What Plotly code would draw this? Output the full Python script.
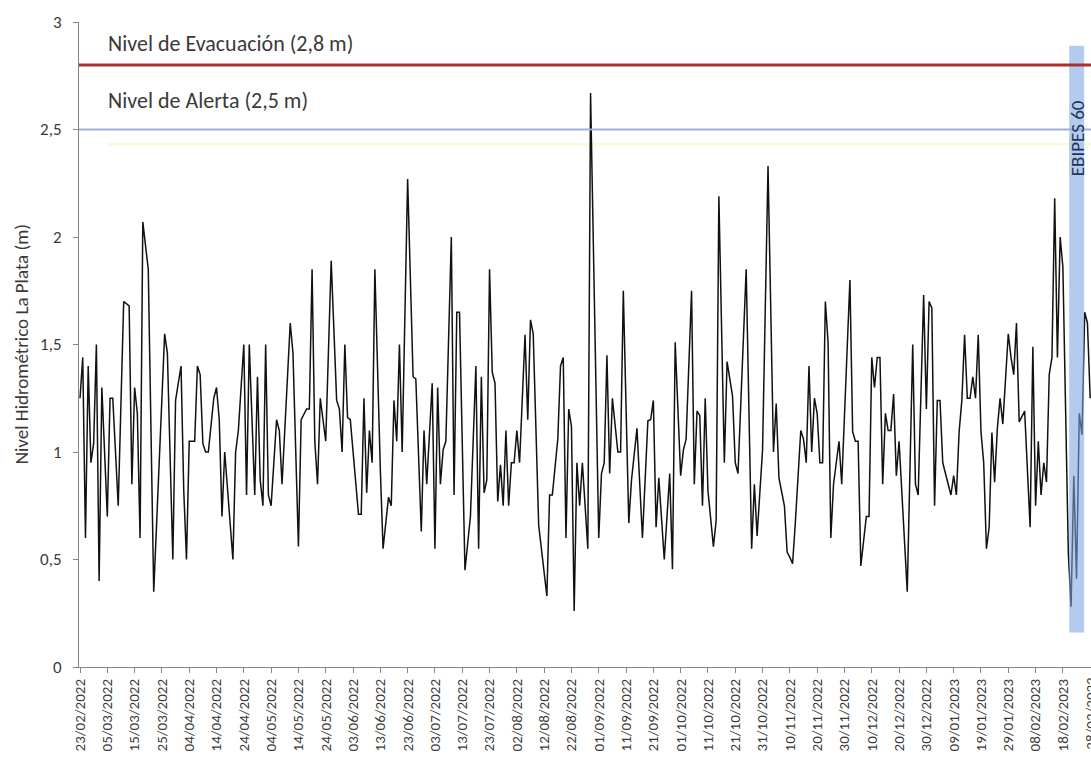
import pandas as pd
import plotly.graph_objects as go

# Daily water level at La Plata, day offsets from the first date
fecha_inicio = "2022-02-23"
dias = [
    0, 1, 2, 3, 4, 5, 6, 7, 8, 10, 11, 12, 14, 16, 18, 19, 20, 21, 22, 23, 25, 27,
    31, 32, 34, 35, 37, 38, 39, 40, 42, 43, 44, 45, 46, 47, 49, 50, 51, 52, 53, 56,
    57, 58, 60, 61, 62, 64, 65, 66, 67, 68, 69, 70, 72, 73, 74, 77, 78, 80, 81, 83,
    84, 85, 86, 87, 88, 90, 92, 94, 95, 96, 97, 98, 99, 102, 103, 104, 105, 106, 107,
    108, 110, 111, 113, 114, 115, 116, 117, 118, 120, 122, 123, 125, 126, 127, 129,
    130, 131, 132, 133, 134, 136, 137, 138, 139, 141, 143, 145, 146, 147, 148, 149,
    150, 151, 152, 153, 154, 155, 156, 157, 158, 159, 160, 161, 163, 164, 165, 166,
    168, 171, 172, 173, 175, 176, 177, 178, 179, 180, 181, 182, 183, 184, 186, 187,
    190, 191, 192, 193, 194, 195, 197, 198, 199, 201, 202, 204, 206, 208, 209, 210,
    211, 212, 214, 216, 217, 218, 220, 221, 222, 224, 225, 226, 227, 228, 229, 230,
    232, 233, 234, 236, 237, 239, 240, 241, 244, 246, 247, 248, 250, 252, 254, 255,
    256, 258, 259, 260, 261, 262, 264, 265, 266, 267, 268, 269, 270, 271, 272, 273,
    274, 275, 276, 278, 279, 282, 283, 284, 285, 286, 288, 289, 290, 291, 292, 293,
    294, 295, 296, 297, 298, 299, 300, 303, 305, 306, 307, 309, 310, 311, 312, 313,
    314, 315, 316, 317, 318, 319, 320, 321, 322, 323, 324, 325, 326, 327, 328, 329,
    330, 331, 332, 333, 334, 335, 336, 337, 338, 340, 341, 342, 343, 344, 346, 348,
    349, 350, 351, 352, 353, 354, 355, 356, 357, 358, 359, 360, 362, 363, 364, 365,
    366, 367, 368, 369, 370,
]
nivel = [
    1.25, 1.44, 0.60, 1.40, 0.95, 1.04, 1.50, 0.40, 1.30, 0.70, 1.25, 1.25, 0.75, 1.70, 1.68, 0.85, 1.30, 1.18, 0.60, 2.07, 1.85, 0.35,
    1.55, 1.46, 0.50, 1.24, 1.40, 0.82, 0.50, 1.05, 1.05, 1.40, 1.36, 1.04, 1.00, 1.00, 1.25, 1.30, 1.15, 0.70, 1.00, 0.50,
    1.00, 1.10, 1.50, 0.80, 1.50, 0.80, 1.35, 0.87, 0.75, 1.50, 0.80, 0.75, 1.15, 1.10, 0.85, 1.60, 1.46, 0.56, 1.15, 1.20,
    1.20, 1.85, 1.05, 0.85, 1.25, 1.05, 1.89, 1.24, 1.20, 1.00, 1.50, 1.16, 1.15, 0.71, 0.71, 1.25, 0.81, 1.10, 0.95,
    1.85, 0.92, 0.55, 0.79, 0.75, 1.24, 1.05, 1.50, 1.00, 2.27, 1.35, 1.34, 0.63, 1.10, 0.85, 1.32,
    0.55, 1.30, 0.85, 1.01, 1.05, 2.00, 0.80, 1.65, 1.65, 0.45, 0.70, 1.40, 0.55, 1.35, 0.81, 0.87,
    1.85, 1.37, 1.32, 0.77, 0.94, 0.75, 1.10, 0.75, 0.95, 0.95, 1.10, 0.95, 1.545, 1.15, 1.615, 1.55,
    0.66, 0.33, 0.80, 0.80, 1.06, 1.40, 1.44, 0.60, 1.20, 1.12, 0.26, 0.95, 0.75, 0.95, 0.55, 2.67,
    0.60, 0.90, 0.95, 1.45, 0.90, 1.25, 1.00, 1.00, 1.75, 0.67, 0.87, 1.11, 0.60, 1.145, 1.15, 1.24,
    0.65, 0.88, 0.50, 0.90, 0.455, 1.51, 0.89, 1.01, 1.06, 1.75, 0.85, 1.19, 1.17, 0.75, 1.25, 0.82,
    0.56, 0.68, 2.19, 0.95, 1.42, 1.26, 0.95, 0.90, 1.85, 0.55, 0.85, 0.61, 1.01, 2.33, 1.00, 1.225,
    0.88, 0.75, 0.535, 0.51, 0.48, 0.67, 1.10, 1.06, 0.95, 1.40, 1.00, 1.25, 1.18, 0.95, 0.95, 1.70,
    1.51, 0.60, 0.85, 1.05, 0.85, 1.80, 1.095, 1.05, 1.05, 0.47, 0.70, 0.70, 1.44, 1.30, 1.44, 1.44,
    0.85, 1.18, 1.10, 1.10, 1.27, 0.89, 1.05, 0.35, 1.50, 0.85, 0.80, 1.73, 1.20, 1.70, 1.67, 0.75,
    1.24, 1.24, 0.95, 0.90, 0.85, 0.80, 0.89, 0.80, 1.095, 1.24, 1.545, 1.25, 1.25, 1.35, 1.25, 1.545,
    1.095, 0.95, 0.55, 0.65, 1.09, 0.86, 1.11, 1.25, 1.13, 1.55, 1.44, 1.36, 1.60, 1.14, 1.19, 0.65,
    1.49, 0.75, 1.05, 0.80, 0.95, 0.86, 1.36, 1.44, 2.18, 1.44, 2.00, 1.86, 0.53, 0.28, 0.89, 0.41,
    1.18, 1.08, 1.65, 1.60, 1.25,
]

# Reference levels (m)
nivel_evacuacion = 2.8
nivel_alerta = 2.5
texto_evacuacion = "Nivel de Evacuación (2,8 m)"
texto_alerta = "Nivel de Alerta (2,5 m)"

# EBIPES 60 period (day offsets) and its label
ebipes_dias = [362.3, 367.8]
ebipes_texto = "EBIPES 60"

# X ticks every 10 days
tick_dias = list(range(0, 371, 10))
eje_y_titulo = "Nivel Hidrométrico La Plata (m)"

t0 = pd.Timestamp(fecha_inicio)
x = [t0 + pd.Timedelta(days=d) for d in dias]
tickvals = [t0 + pd.Timedelta(days=d) for d in tick_dias]
ticktext = [t.strftime("%d/%m/%Y") for t in tickvals]

FONT = "Calibri, Carlito, Lato, sans-serif"
GRIS = "#868686"
TEXTO = "#3A3A3A"

fig = go.Figure()
fig.add_trace(go.Scatter(
    x=x, y=nivel, mode="lines",
    line=dict(color="#111111", width=1.5),
    showlegend=False, hoverinfo="x+y",
))

x_ini = t0 - pd.Timedelta(hours=0.37 * 24)
x_fin = t0 + pd.Timedelta(hours=370.3 * 24)

shapes = [
    # EBIPES band (semi-transparent, over the series)
    dict(type="rect", xref="x", yref="y",
         x0=t0 + pd.Timedelta(hours=ebipes_dias[0] * 24),
         x1=t0 + pd.Timedelta(hours=ebipes_dias[1] * 24),
         y0=0.16, y1=2.89, line=dict(width=0),
         fillcolor="rgba(122,166,226,0.58)", layer="above"),
    # faint guide under the alert line
    dict(type="line", xref="paper", yref="y", x0=0.028, x1=1, y0=2.43, y1=2.43,
         line=dict(color="#FCF9DC", width=3), layer="below"),
    dict(type="line", xref="paper", yref="y", x0=0, x1=1,
         y0=nivel_alerta, y1=nivel_alerta,
         line=dict(color="#9FB1D8", width=2.2), layer="above"),
    dict(type="line", xref="paper", yref="y", x0=0, x1=1,
         y0=nivel_evacuacion, y1=nivel_evacuacion,
         line=dict(color="#A8302E", width=3), layer="above"),
]

annotations = [
    dict(text=texto_evacuacion, xref="paper", yref="y", x=0.027, y=2.90,
         xanchor="left", yanchor="middle", showarrow=False,
         font=dict(family=FONT, size=22, color=TEXTO)),
    dict(text=texto_alerta, xref="paper", yref="y", x=0.027, y=2.635,
         xanchor="left", yanchor="middle", showarrow=False,
         font=dict(family=FONT, size=22, color=TEXTO)),
    dict(text=ebipes_texto, xref="x", yref="y",
         x=t0 + pd.Timedelta(hours=365.2 * 24), y=2.46,
         textangle=-90, xanchor="center", yanchor="middle", showarrow=False,
         font=dict(family=FONT, size=19, color="#1F3458")),
    dict(text=eje_y_titulo, xref="paper", yref="paper", x=-0.0565, y=0.5,
         textangle=-90, xanchor="center", yanchor="middle", showarrow=False,
         font=dict(family=FONT, size=19, color=TEXTO)),
    # last date label, partly cut at the right edge
    dict(text=ticktext[-1], xref="x", yref="paper", x=tickvals[-1], y=0,
         yshift=-8, textangle=-90, xanchor="center", yanchor="top",
         showarrow=False, font=dict(family=FONT, size=15, color=TEXTO)),
]

fig.update_layout(
    width=1091, height=758,
    margin=dict(l=79, r=0, t=22, b=91),
    paper_bgcolor="white", plot_bgcolor="white",
    separators=",.",
    font=dict(family=FONT, color=TEXTO),
    shapes=shapes, annotations=annotations,
    showlegend=False,
)
fig.update_xaxes(
    type="date", range=[x_ini, x_fin],
    tickmode="array", tickvals=tickvals[:-1], ticktext=ticktext[:-1],
    tickangle=-90, tickfont=dict(family=FONT, size=15, color=TEXTO),
    showline=True, linecolor=GRIS, linewidth=1,
    ticks="outside", ticklen=5, tickcolor=GRIS,
    showgrid=False, zeroline=False,
)
fig.update_yaxes(
    range=[0, 3], dtick=0.5, tick0=0,
    tickfont=dict(family=FONT, size=17, color=TEXTO),
    showline=True, linecolor=GRIS, linewidth=1,
    ticks="outside", ticklen=5, tickcolor=GRIS, ticklabelstandoff=8,
    showgrid=False, zeroline=False,
)

fig.write_html("out.html")
